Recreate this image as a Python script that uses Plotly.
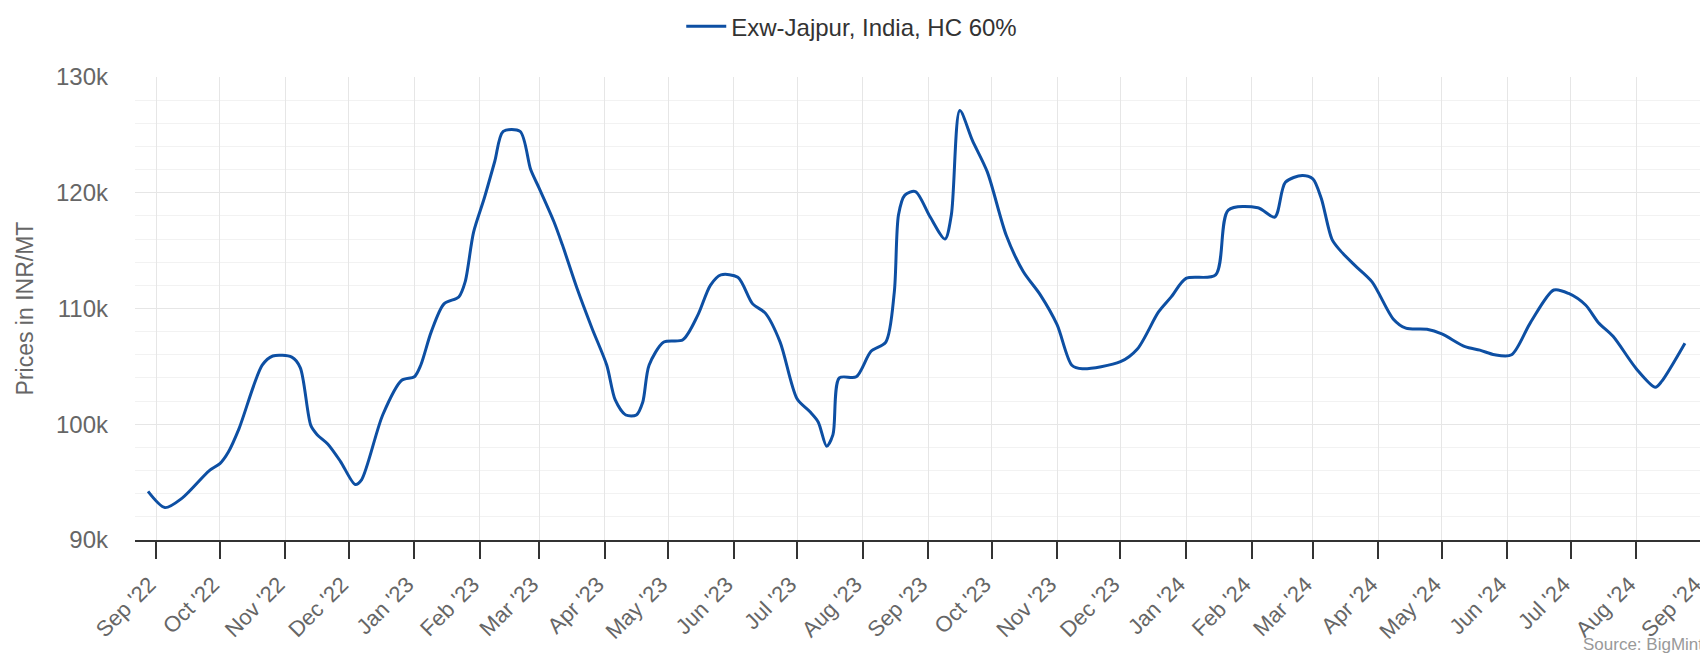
import plotly.graph_objects as go

# price series (INR/MT)
dates = [
    "2022-08-28", "2022-09-05", "2022-09-13", "2022-09-26", "2022-10-01", "2022-10-05",
    "2022-10-10", "2022-10-21", "2022-10-26", "2022-11-04", "2022-11-08", "2022-11-13",
    "2022-11-16", "2022-11-21", "2022-11-27", "2022-12-04", "2022-12-07", "2022-12-17",
    "2022-12-26", "2023-01-01", "2023-01-04", "2023-01-09", "2023-01-15", "2023-01-22",
    "2023-01-25", "2023-01-29", "2023-02-03", "2023-02-08", "2023-02-12", "2023-02-20",
    "2023-02-25", "2023-03-01", "2023-03-08", "2023-03-12", "2023-03-19", "2023-03-26",
    "2023-04-02", "2023-04-06", "2023-04-11", "2023-04-16", "2023-04-19", "2023-04-22",
    "2023-04-29", "2023-05-08", "2023-05-15", "2023-05-21", "2023-05-26", "2023-06-03",
    "2023-06-10", "2023-06-16", "2023-06-23", "2023-07-01", "2023-07-07", "2023-07-11",
    "2023-07-15", "2023-07-18", "2023-07-21", "2023-07-29", "2023-08-05", "2023-08-12",
    "2023-08-16", "2023-08-18", "2023-08-21", "2023-08-26", "2023-09-02", "2023-09-09",
    "2023-09-12", "2023-09-16", "2023-09-22", "2023-09-29", "2023-10-08", "2023-10-16",
    "2023-10-24", "2023-11-01", "2023-11-08", "2023-11-13", "2023-12-01", "2023-12-09",
    "2023-12-19", "2023-12-25", "2024-01-01", "2024-01-15", "2024-01-21", "2024-02-04",
    "2024-02-12", "2024-02-17", "2024-02-25", "2024-03-01", "2024-03-05", "2024-03-10",
    "2024-03-14", "2024-03-21", "2024-03-29", "2024-04-08", "2024-04-14", "2024-04-24",
    "2024-05-01", "2024-05-12", "2024-05-19", "2024-05-26", "2024-06-03", "2024-06-12",
    "2024-06-23", "2024-06-30", "2024-07-08", "2024-07-14", "2024-07-21", "2024-08-01",
    "2024-08-10", "2024-08-13", "2024-08-24",
]
prices = [
    94200, 92800, 93600, 96000, 96600, 97600,
    99600, 105100, 105900, 105800, 104900, 99900,
    99100, 98300, 96800, 94800, 95200, 100800,
    103800, 104100, 105100, 108000, 110400, 111000,
    112300, 116600, 119500, 122700, 125300, 125300,
    122000, 120400, 117500, 115500, 111700, 108300,
    105100, 102100, 100800, 100800, 101900, 105100,
    107100, 107300, 109400, 112000, 112900, 112700,
    110400, 109600, 107100, 102200, 101100, 100200,
    98100, 99100, 104000, 104100, 106300, 107100,
    111400, 118100, 119800, 120100, 117900, 116000,
    118100, 127100, 124500, 121800, 116300, 113200,
    111200, 108600, 105100, 104800, 105400, 106500,
    109700, 111000, 112600, 112900, 118500, 118700,
    117900, 120900, 121500, 121200, 119500, 116000,
    115000, 113700, 112300, 109100, 108300, 108200,
    107800, 106700, 106400, 106000, 106000, 108800,
    111600, 111300, 110300, 108800, 107600, 104800,
    103200, 103700, 107000,
]
series_name = "Exw-Jajpur, India, HC 60%"
y_ticks = [90000, 100000, 110000, 120000, 130000]
y_tick_labels = ["90k", "100k", "110k", "120k", "130k"]

FONT = "Liberation Sans, Arial, sans-serif"

fig = go.Figure()
fig.add_trace(go.Scatter(
    x=dates, y=prices, mode="lines", name=series_name,
    line=dict(color="#0d4fa3", width=3, shape="spline", smoothing=0.8),
))

# the page body adds an 8px offset, margins are set to make up for it
fig.update_layout(
    width=1708, height=657,
    margin=dict(l=127, r=11, t=69, b=125, autoexpand=False),
    paper_bgcolor="white", plot_bgcolor="white",
    font=dict(family=FONT, color="#666666", size=24),
    showlegend=True,
    legend=dict(orientation="h", xref="container", yref="paper",
                x=0.494, xanchor="center", y=1.109, yanchor="middle",
                font=dict(size=24, color="#333333"), itemwidth=40),
    xaxis=dict(
        type="date", range=["2022-08-21 20:00", "2024-09-02 12:00"],
        dtick="M1", tick0="2022-09-01", tickformat="%b '%y", tickangle=-45,
        showgrid=True, gridcolor="#e6e6e6", gridwidth=1,
        showline=True, linecolor="#333333", linewidth=2,
        ticks="outside", ticklen=17, tickwidth=1.5, tickcolor="#333333",
        tickfont=dict(size=22, color="#666666"), zeroline=False,
        automargin=False, ticklabeloverflow="allow", ticklabelstandoff=4,
        ticklabelshift=-7,
    ),
    yaxis=dict(
        range=[90000, 130000], tickvals=y_ticks, ticktext=y_tick_labels,
        showgrid=True, gridcolor="#e6e6e6", gridwidth=1,
        minor=dict(dtick=2000, tick0=90000, showgrid=True, gridcolor="#f2f2f2", gridwidth=1),
        showline=False, zeroline=False, ticks="", automargin=False,
        ticklabelstandoff=26,
        tickfont=dict(size=24, color="#666666"),
    ),
)

# y axis title, placed by hand
fig.add_annotation(
    text="Prices in INR/MT", xref="paper", yref="paper", x=-0.0701, y=0.5,
    xanchor="center", yanchor="middle", textangle=-90, showarrow=False,
    font=dict(size=23, color="#666666"),
)

fig.add_annotation(
    text="Source: BigMint", xref="paper", yref="paper", x=1.0, y=-0.25,
    xanchor="right", yanchor="bottom", showarrow=False,
    font=dict(size=17, color="#999999"),
)

fig.write_html("out.html")
